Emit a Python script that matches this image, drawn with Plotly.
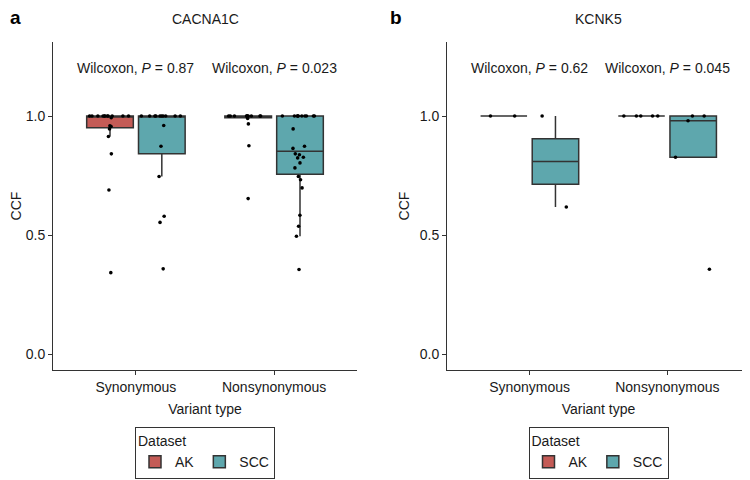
import numpy as np
import plotly.graph_objects as go

# ---------------- data ----------------
categories = ["Synonymous", "Nonsynonymous"]
datasets = ["AK", "SCC"]
genes = ["CACNA1C", "KCNK5"]
panel_letters = ["a", "b"]

# CACNA1C CCF values
cacna1c_ak_syn = [1.0, 1.0, 1.0, 1.0, 1.0, 1.0, 1.0, 1.0, 1.0, 1.0, 1.0,
                  0.993, 0.959, 0.956, 0.946, 0.914, 0.841, 0.689, 0.342]
cacna1c_scc_syn = [1.0, 1.0, 1.0, 1.0, 1.0, 1.0, 1.0, 1.0, 1.0, 1.0,
                   0.960, 0.873, 0.746, 0.579, 0.553, 0.358]
cacna1c_ak_non = [1.0, 1.0, 1.0, 1.0, 1.0, 1.0, 1.0, 1.0, 1.0, 1.0,
                  0.990, 0.967, 0.875, 0.653]
cacna1c_scc_non = [1.0, 1.0, 1.0, 1.0, 1.0, 1.0, 1.0, 1.0, 1.0, 1.0,
                   0.946, 0.873, 0.864, 0.841, 0.837, 0.827, 0.824, 0.803,
                   0.782, 0.746, 0.732, 0.698, 0.583, 0.537, 0.495, 0.355]

# KCNK5 CCF values
kcnk5_ak_syn = [1.0, 1.0]
kcnk5_scc_syn = [1.0, 0.618]
kcnk5_ak_non = [1.0, 1.0, 1.0, 1.0, 1.0]
kcnk5_scc_non = [1.0, 1.0, 0.980, 0.827, 0.356]

cacna1c_pvals = ["0.87", "0.023"]
kcnk5_pvals = ["0.62", "0.045"]

y_tickvals = [0.0, 0.5, 1.0]
y_ticktext = ["0.0", "0.5", "1.0"]

# ---------------- style ----------------
colors = {"AK": "#C45B56", "SCC": "#5EA7AD"}
FONT = "Liberation Sans, Arial, Helvetica, sans-serif"
TXT = "#1a1a1a"
LINE = "#333333"

panels = [
    {"AK": [cacna1c_ak_syn, cacna1c_ak_non], "SCC": [cacna1c_scc_syn, cacna1c_scc_non],
     "p": cacna1c_pvals},
    {"AK": [kcnk5_ak_syn, kcnk5_ak_non], "SCC": [kcnk5_scc_syn, kcnk5_scc_non],
     "p": kcnk5_pvals},
]


def box_stats(vals):
    v = np.asarray(vals, dtype=float)
    q1, med, q3 = np.percentile(v, [25, 50, 75])
    iqr = q3 - q1
    lo = v[v >= q1 - 1.5 * iqr].min()
    hi = v[v <= q3 + 1.5 * iqr].max()
    return q1, med, q3, lo, hi


fig = go.Figure()

for pi, panel in enumerate(panels):
    xa = "x" if pi == 0 else "x2"
    ya = "y" if pi == 0 else "y2"
    leg = "legend" if pi == 0 else "legend2"
    for ds in datasets:
        groups = panel[ds]
        stats = [box_stats(g) for g in groups]
        fig.add_trace(go.Box(
            x=categories,
            q1=[s[0] for s in stats], median=[s[1] for s in stats],
            q3=[s[2] for s in stats], lowerfence=[s[3] for s in stats],
            upperfence=[s[4] for s in stats],
            name=ds, offsetgroup=ds, legend=leg, legendgroup=ds + str(pi),
            fillcolor=colors[ds], line=dict(color=LINE, width=1.5),
            whiskerwidth=0, boxpoints=False, xaxis=xa, yaxis=ya,
            orientation="v", hoverinfo="skip",
        ))
        xs, ys = [], []
        for cat, g in zip(categories, groups):
            xs += [cat] * len(g)
            ys += list(g)
        fig.add_trace(go.Box(
            x=xs, y=ys, name=ds, offsetgroup=ds, showlegend=False,
            boxpoints="all", jitter=0.9, pointpos=0,
            fillcolor="rgba(0,0,0,0)", line=dict(color="rgba(0,0,0,0)", width=0),
            marker=dict(color="black", size=3.6, line=dict(width=0)),
            xaxis=xa, yaxis=ya, hoverinfo="skip",
        ))

# page has an 8px body margin: map reference pixel positions into figure space
OFF = 8
W, H = 742, 472
px_x = lambda p: (p - OFF) / W
px_y = lambda p: 1 - (p - OFF) / H

ydom = [px_y(370), px_y(42)]
xdoms = [[px_x(53), px_x(357)], [px_x(447), px_x(750)]]

axis_font = dict(family=FONT, size=14, color=TXT)
common_x = dict(type="category", categoryorder="array", categoryarray=categories,
                range=[-0.6, 1.6], showline=True, linecolor=LINE, linewidth=1,
                ticks="outside", ticklen=4, tickcolor=LINE, showgrid=False,
                zeroline=False, tickfont=axis_font,
                title=dict(text="Variant type", font=axis_font, standoff=10))
common_y = dict(range=[-0.067, 1.311], showline=True, linecolor=LINE, linewidth=1,
                ticks="outside", ticklen=4, tickcolor=LINE, showgrid=False,
                zeroline=False, tickvals=y_tickvals, ticktext=y_ticktext,
                tickfont=axis_font, domain=ydom,
                title=dict(text="CCF", font=axis_font, standoff=6))

annotations = []
for pi, panel in enumerate(panels):
    xr = "x" if pi == 0 else "x2"
    yr = "y" if pi == 0 else "y2"
    for ci, p in enumerate(panel["p"]):
        annotations.append(dict(x=ci, y=1.2, xref=xr, yref=yr,
                                text="Wilcoxon, <i>P</i> = " + p, showarrow=False,
                                xanchor="center", yanchor="middle",
                                font=dict(family=FONT, size=14, color=TXT)))
    cx = (xdoms[pi][0] + xdoms[pi][1]) / 2
    annotations.append(dict(x=cx, y=px_y(19), xref="paper", yref="paper",
                            text=genes[pi], showarrow=False,
                            xanchor="center", yanchor="middle",
                            font=dict(family=FONT, size=14, color=TXT)))
    annotations.append(dict(x=max(px_x(8 if pi == 0 else 388), 0), y=1.0,
                            xref="paper", yref="paper", text="<b>" + panel_letters[pi] + "</b>",
                            showarrow=False, xanchor="left", yanchor="top",
                            yshift=3,
                            font=dict(family=FONT, size=19, color="black")))

legend_common = dict(orientation="h", xanchor="center", yanchor="top",
                     bordercolor=LINE, borderwidth=1, bgcolor="white",
                     font=dict(family=FONT, size=14, color=TXT),
                     title=dict(text="Dataset", side="top",
                                font=dict(family=FONT, size=14, color=TXT)),
                     itemclick=False, tracegroupgap=0)

fig.update_layout(
    width=W, height=H, margin=dict(l=0, r=0, t=0, b=0),
    paper_bgcolor="white", plot_bgcolor="white",
    boxmode="group", boxgap=0.25, boxgroupgap=0.1,
    font=dict(family=FONT, size=14, color=TXT),
    xaxis=dict(domain=xdoms[0], anchor="y", **common_x),
    yaxis=dict(anchor="x", **common_y),
    xaxis2=dict(domain=xdoms[1], anchor="y2", **common_x),
    yaxis2=dict(anchor="x2", **common_y),
    legend=dict(x=(xdoms[0][0] + xdoms[0][1]) / 2, y=px_y(427), **legend_common),
    legend2=dict(x=(xdoms[1][0] + xdoms[1][1]) / 2, y=px_y(427), **legend_common),
    annotations=annotations,
)

fig.write_html("out.html")
